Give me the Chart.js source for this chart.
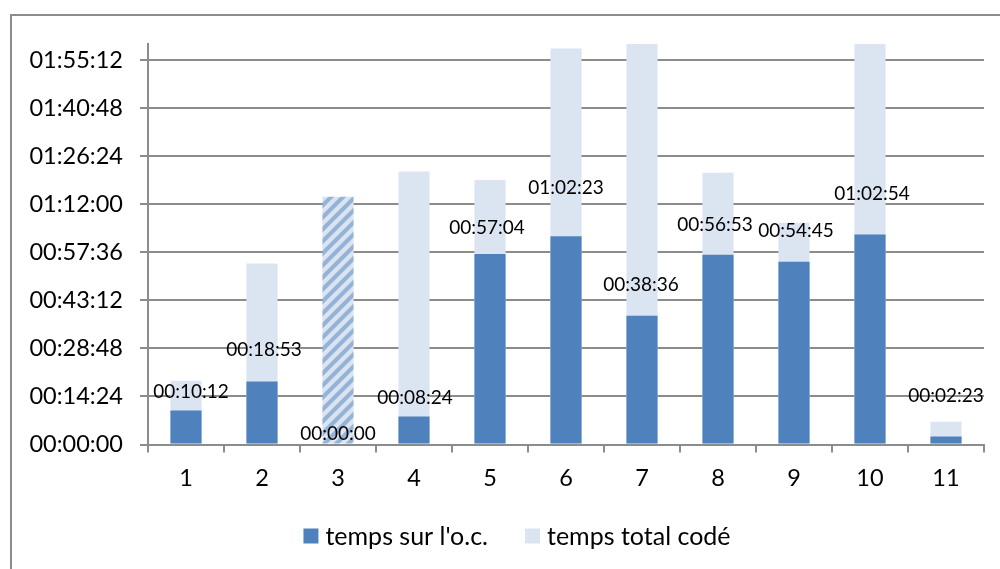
<!DOCTYPE html>
<html>
<head>
<meta charset="utf-8">
<script src="https://cdn.jsdelivr.net/npm/chart.js@4.4.1/dist/chart.umd.min.js"></script>
<style>
  html, body { margin: 0; padding: 0; background: #ffffff; overflow: hidden; }
  #frame {
    position: absolute; left: 10px; top: 14px; width: 1200px; height: 800px;
    border-left: 2px solid #8c8c8c; border-top: 2px solid #8c8c8c;
  }
  #wrap { position: absolute; left: 0; top: 0; width: 1000px; height: 569px; }
</style>
</head>
<body>
<div id="frame"></div>
<div id="wrap"><canvas id="chart" width="1000" height="569"></canvas></div>
<script>
// Sessions 1..11, durations in seconds
const categories = ['1', '2', '3', '4', '5', '6', '7', '8', '9', '10', '11'];
const tempsSurOC = [612, 1133, 0, 504, 3424, 3743, 2316, 3413, 3285, 3774, 143];
const tempsTotalCode = [1147, 3253, 4453, 4909, 4754, 7117, 7200, 4885, 3985, 7200, 409];
const seriesNames = ["temps sur l'o.c.", 'temps total codé'];
const axisMax = 7200;      // 02:00:00
const axisStep = 864;      // 00:14:24

// hand-placed value labels: nudges in pixels from the top of the dark bar
const labelLift = [19, 32, 11, 19, 26, 48, 31, 30, 31, 41, 41];
const labelShift = [5, 2, 0, 1, -3, 0, -1, -3, 2, 2, 0];

const FONT = 'Lato, "Open Sans", sans-serif';
const DARK = '#4f81bd';
const LIGHT = '#dbe5f1';
const STRIPE = '#95b3d7';

function hms(sec) {
  const s = Math.round(sec);
  const h = Math.floor(s / 3600), m = Math.floor((s % 3600) / 60), r = s % 60;
  const p = n => String(n).padStart(2, '0');
  return p(h) + ':' + p(m) + ':' + p(r);
}

// diagonal hatch used for the session without any o.c. time
function hatchPattern() {
  const s = 12;
  const c = document.createElement('canvas');
  c.width = s; c.height = s;
  const g = c.getContext('2d');
  g.fillStyle = LIGHT; g.fillRect(0, 0, s, s);
  g.strokeStyle = STRIPE; g.lineWidth = 4.2;
  g.beginPath();
  g.moveTo(-2, s + 2); g.lineTo(s + 2, -2);
  g.moveTo(-2, 2); g.lineTo(2, -2);
  g.moveTo(s - 2, s + 2); g.lineTo(s + 2, s - 2);
  g.stroke();
  return g.createPattern(c, 'repeat');
}

const hatch = hatchPattern();
const totalColors = tempsSurOC.map(v => v === 0 ? hatch : LIGHT);

const valueLabels = {
  id: 'valueLabels',
  afterDatasetsDraw(chart) {
    const ctx = chart.ctx;
    const meta = chart.getDatasetMeta(0);
    ctx.save();
    ctx.font = '19px ' + FONT;
    ctx.fillStyle = '#000000';
    ctx.textAlign = 'center';
    ctx.textBaseline = 'middle';
    meta.data.forEach((bar, i) => {
      ctx.fillText(hms(tempsSurOC[i]), bar.x + labelShift[i], bar.y - labelLift[i]);
    });
    ctx.restore();
  }
};

// legend row below the axis: square swatch + series name
const legendRow = {
  id: 'legendRow',
  afterDraw(chart) {
    const ctx = chart.ctx;
    const box = 15, gap = 7, spacing = 37, cx = 517, cy = 536;
    ctx.save();
    ctx.font = '25px ' + FONT;
    ctx.textBaseline = 'middle';
    ctx.textAlign = 'left';
    const colors = [DARK, LIGHT];
    const widths = seriesNames.map(t => ctx.measureText(t).width);
    const total = widths.reduce((a, w) => a + box + gap + w, 0) + spacing * (seriesNames.length - 1);
    let x = cx - total / 2;
    seriesNames.forEach((name, i) => {
      ctx.fillStyle = colors[i];
      ctx.fillRect(x, cy - box / 2, box, box);
      x += box + gap;
      ctx.fillStyle = '#000000';
      ctx.fillText(name, x, cy + 1);
      x += widths[i] + spacing;
    });
    ctx.restore();
  }
};

new Chart(document.getElementById('chart'), {
  type: 'bar',
  data: {
    labels: categories,
    datasets: [
      { label: seriesNames[0], data: tempsSurOC, backgroundColor: DARK, borderWidth: 0 },
      { label: seriesNames[1], data: tempsTotalCode, backgroundColor: totalColors, borderWidth: 0 }
    ]
  },
  options: {
    responsive: false,
    animation: false,
    devicePixelRatio: 1,
    datasets: { bar: { barPercentage: 0.41, categoryPercentage: 1.0 } },
    layout: { padding: { top: 44, right: 16, left: 0, bottom: 66.5 } },
    scales: {
      x: {
        stacked: true,
        grid: { offset: true, drawOnChartArea: false, drawTicks: true, tickLength: 8, color: '#8c8c8c', lineWidth: 2 },
        border: { display: true, color: '#8c8c8c', width: 2 },
        ticks: { color: '#000000', font: { family: FONT, size: 23.5 }, padding: 12 },
        afterFit(scale) { scale.height = 58; }
      },
      y: {
        stacked: false,
        min: 0,
        max: axisMax,
        grid: { color: '#8c8c8c', lineWidth: 2, tickLength: 8, drawTicks: true },
        border: { display: true, color: '#8c8c8c', width: 2 },
        ticks: {
          color: '#000000',
          font: { family: FONT, size: 23.5 },
          padding: 17,
          callback: v => hms(v)
        },
        afterBuildTicks(scale) {
          const ticks = [];
          for (let v = 0; v <= axisMax; v += axisStep) ticks.push({ value: v });
          scale.ticks = ticks;
        },
        afterFit(scale) { scale.width = 148; }
      }
    },
    plugins: {
      legend: { display: false },
      tooltip: { enabled: false }
    }
  },
  plugins: [valueLabels, legendRow]
});
</script>
</body>
</html>
